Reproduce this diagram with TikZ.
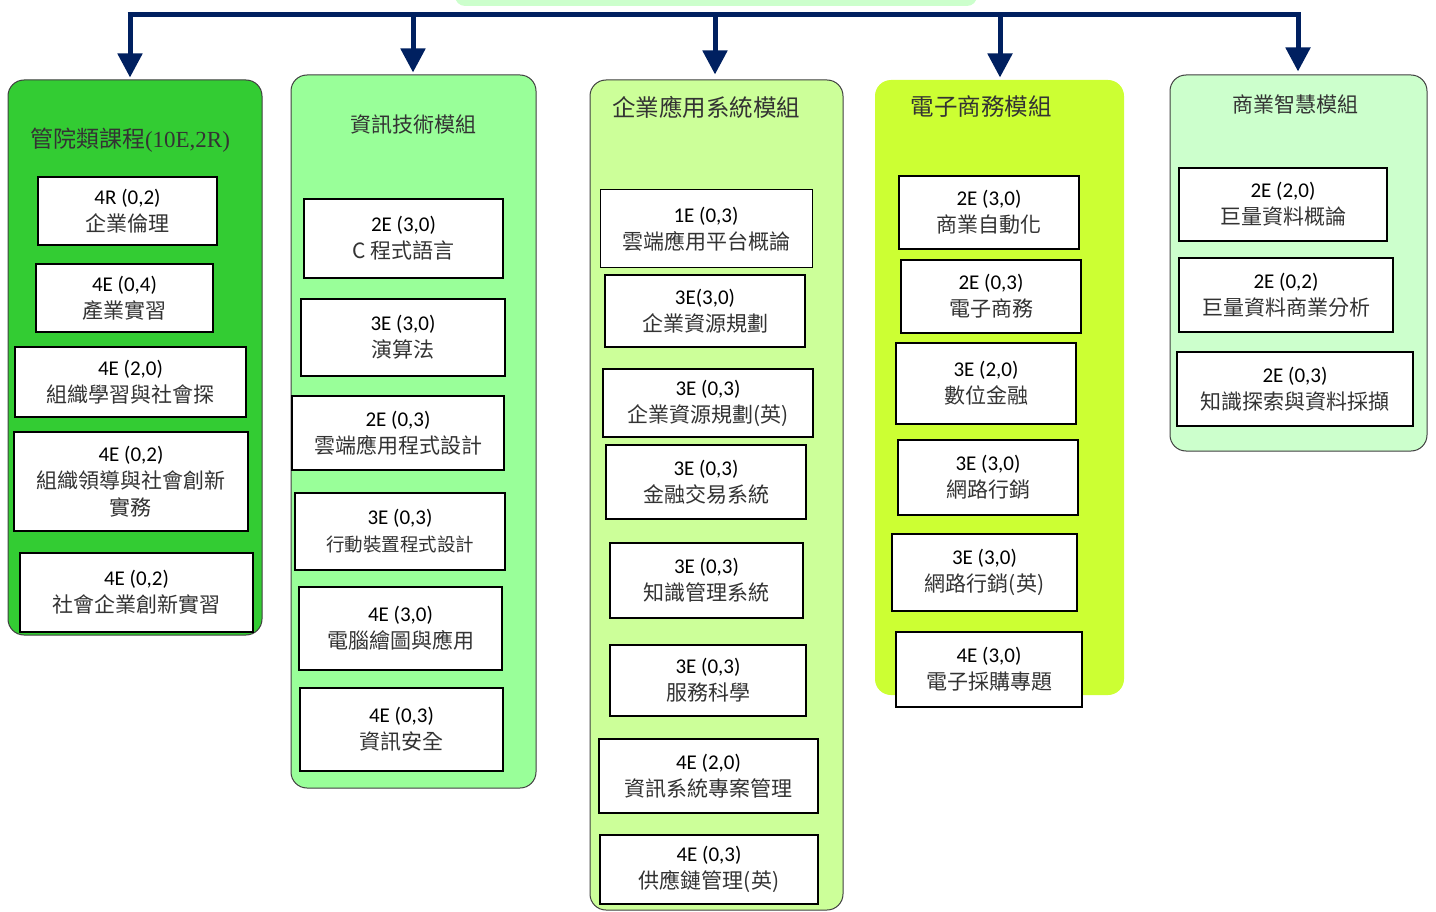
\documentclass[tikz,border=0pt]{standalone}
\usepackage{fontspec}
\setmainfont{Carlito}
\newfontfamily\cjkfont{Noto Sans CJK TC}
\newfontfamily\serifnum{Liberation Serif}
\usetikzlibrary{arrows.meta}
\definecolor{navy}{HTML}{002060}
\definecolor{gA}{HTML}{33CC33}
\definecolor{gB}{HTML}{99FF99}
\definecolor{gC}{HTML}{CCFF99}
\definecolor{gD}{HTML}{CCFF33}
\definecolor{gE}{HTML}{CCFFCC}
\definecolor{cjkgray}{HTML}{333333}
\newcommand\mkcourse[2]{#1\\{\cjkfont\color{cjkgray}#2}}
\tikzset{
  colbox/.style={draw=black!75, line width=1pt, rounded corners=16pt, inner sep=0pt},
  course/.style={draw=black, line width=1.5pt, fill=white, inner sep=0pt, align=center,
    font=\fontsize{21}{27}\selectfont},
  coltitle/.style={inner sep=0pt, text=cjkgray, font=\cjkfont\fontsize{22}{26}\selectfont},
  barline/.style={draw=navy, line width=5pt},
  downarrow/.style={draw=navy, line width=5pt, -{Triangle[width=24pt,length=24pt]}}
}
\begin{document}
\begin{tikzpicture}[x=1pt,y=-1pt]
\useasboundingbox (0,0) rectangle (1436,912);
% top box (partially visible)
\node[fill=gE, rounded corners=10pt, minimum width=522pt, minimum height=40pt, inner sep=0pt] (top) at (716,-14) {};
% columns
\node[colbox, fill=gA, minimum width=254pt, minimum height=555pt] (col1) at (135,357.5) {};
\node[colbox, fill=gB, minimum width=245pt, minimum height=713pt] (col2) at (413.5,431.5) {};
\node[colbox, fill=gC, minimum width=253pt, minimum height=830pt] (col3) at (716.5,495) {};
\node[colbox, draw=none, fill=gD, minimum width=249pt, minimum height=615pt] (col4) at (999.5,387.5) {};
\node[colbox, fill=gE, minimum width=257pt, minimum height=376pt] (col5) at (1298.5,263) {};
% bar and arrows
\coordinate (b1) at (130,15);
\coordinate (b2) at (413,15);
\coordinate (b3) at (715,15);
\coordinate (b4) at (1000,15);
\coordinate (b5) at (1298,15);
\draw[barline] ([xshift=-2.5pt]b1) -- ([xshift=2.5pt]b5);
\draw[downarrow, shorten >=2pt] ([yshift=-2pt]b1) -- (col1.north -| b1);
\draw[downarrow, shorten >=2pt] ([yshift=-2pt]b2) -- (col2.north -| b2);
\draw[downarrow, shorten >=5pt] ([yshift=-2pt]b3) -- (col3.north -| b3);
\draw[downarrow, shorten >=2pt] ([yshift=-2pt]b4) -- (col4.north -| b4);
\draw[downarrow, shorten >=3pt] ([yshift=-2pt]b5) -- (col5.north -| b5);
% titles
\node[coltitle, font=\cjkfont\fontsize{23}{26}\selectfont] (t1) at (130,140) {管院類課程{\serifnum(10E,2R)}};
\node[coltitle, font=\cjkfont\fontsize{21}{26}\selectfont] (t2) at (413,124) {資訊技術模組};
\node[coltitle, font=\cjkfont\fontsize{23.5}{26}\selectfont] (t3) at (706,107) {企業應用系統模組};
\node[coltitle, font=\cjkfont\fontsize{23.5}{26}\selectfont] (t4) at (981,107) {電子商務模組};
\node[coltitle, font=\cjkfont\fontsize{21}{26}\selectfont] (t5) at (1295,104) {商業智慧模組};
% column 1
\node[course, minimum width=179pt, minimum height=68pt] (c11) at (127.5,211) {\mkcourse{4R (0,2)}{企業倫理}};
\node[course, minimum width=177pt, minimum height=68pt] (c12) at (124.5,298) {\mkcourse{4E (0,4)}{產業實習}};
\node[course, minimum width=231pt, minimum height=70pt] (c13) at (130.5,382) {\mkcourse{4E (2,0)}{組織學習與社會探}};
\node[course, minimum width=234pt, minimum height=99pt] (c14) at (131,481.5) {4E (0,2)\\{\cjkfont\color{cjkgray}組織領導與社會創新}\\{\cjkfont\color{cjkgray}實務}};
\node[course, minimum width=233pt, minimum height=79pt] (c15) at (136.5,592.5) {\mkcourse{4E (0,2)}{社會企業創新實習}};
% column 2
\node[course, minimum width=199pt, minimum height=79pt] (c21) at (403.5,238.5) {\mkcourse{2E (3,0)}{C 程式語言}};
\node[course, minimum width=204pt, minimum height=77pt] (c22) at (403,337.5) {\mkcourse{3E (3,0)}{演算法}};
\node[course, minimum width=212pt, minimum height=74pt] (c23) at (398,433) {\mkcourse{2E (0,3)}{雲端應用程式設計}};
\node[course, minimum width=210pt, minimum height=77pt] (c24) at (400,531.5) {3E (0,3)\\{\cjkfont\color{cjkgray}\fontsize{18.5}{24}\selectfont 行動裝置程式設計}};
\node[course, minimum width=203pt, minimum height=83pt] (c25) at (400.5,628.5) {\mkcourse{4E (3,0)}{電腦繪圖與應用}};
\node[course, minimum width=203pt, minimum height=83pt] (c26) at (401.5,729.5) {\mkcourse{4E (0,3)}{資訊安全}};
% column 3
\node[course, line width=1pt, minimum width=212pt, minimum height=78pt] (c31) at (706,229) {\mkcourse{1E (0,3)}{雲端應用平台概論}};
\node[course, minimum width=200pt, minimum height=72pt] (c32) at (705,311) {\mkcourse{3E(3,0)}{企業資源規劃}};
\node[course, minimum width=210pt, minimum height=68pt] (c33) at (708,403) {\mkcourse{3E (0,3)}{企業資源規劃(英)}};
\node[course, minimum width=200pt, minimum height=74pt] (c34) at (706,482) {\mkcourse{3E (0,3)}{金融交易系統}};
\node[course, minimum width=193pt, minimum height=75pt] (c35) at (706.5,580.5) {\mkcourse{3E (0,3)}{知識管理系統}};
\node[course, minimum width=196pt, minimum height=71pt] (c36) at (708,680.5) {\mkcourse{3E (0,3)}{服務科學}};
\node[course, minimum width=219pt, minimum height=74pt] (c37) at (708.5,776) {\mkcourse{4E (2,0)}{資訊系統專案管理}};
\node[course, minimum width=218pt, minimum height=69pt] (c38) at (709,869.5) {\mkcourse{4E (0,3)}{供應鏈管理(英)}};
% column 4
\node[course, minimum width=180pt, minimum height=73pt] (c41) at (989,212.5) {\mkcourse{2E (3,0)}{商業自動化}};
\node[course, minimum width=180pt, minimum height=73pt] (c42) at (991,296.5) {\mkcourse{2E (0,3)}{電子商務}};
\node[course, minimum width=180pt, minimum height=81pt] (c43) at (986,383.5) {\mkcourse{3E (2,0)}{數位金融}};
\node[course, minimum width=180pt, minimum height=75pt] (c44) at (988,477.5) {\mkcourse{3E (3,0)}{網路行銷}};
\node[course, minimum width=185pt, minimum height=77pt] (c45) at (984.5,572.5) {\mkcourse{3E (3,0)}{網路行銷(英)}};
\node[course, minimum width=186pt, minimum height=75pt] (c46) at (989,669.5) {\mkcourse{4E (3,0)}{電子採購專題}};
% column 5
\node[course, minimum width=208pt, minimum height=73pt] (c51) at (1283,204.5) {\mkcourse{2E (2,0)}{巨量資料概論}};
\node[course, minimum width=214pt, minimum height=74pt] (c52) at (1286,295) {\mkcourse{2E (0,2)}{巨量資料商業分析}};
\node[course, minimum width=236pt, minimum height=74pt] (c53) at (1295,389) {\mkcourse{2E (0,3)}{知識探索與資料採擷}};
\end{tikzpicture}
\end{document}
